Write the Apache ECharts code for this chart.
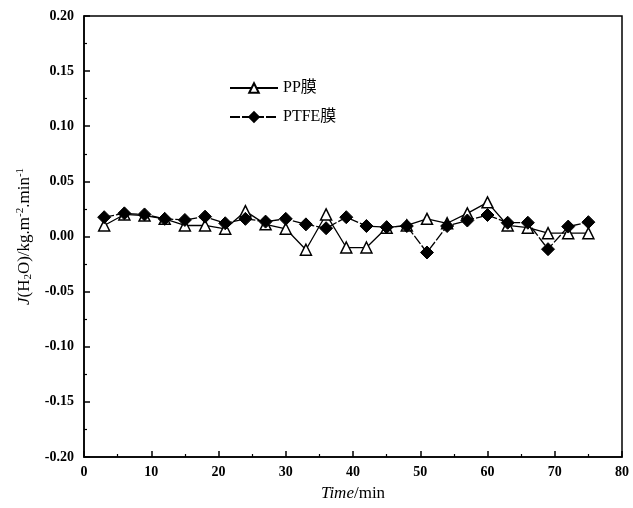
<!DOCTYPE html>
<html>
<head>
<meta charset="utf-8">
<script src="https://cdn.jsdelivr.net/npm/echarts@6/dist/echarts.min.js"></script>
<style>
  html, body { margin: 0; padding: 0; background: #fff; }
  #chart { width: 633px; height: 508px; }
</style>
</head>
<body>
<div id="chart"></div>
<script>
// 时间 (min)
const times = [3, 6, 9, 12, 15, 18, 21, 24, 27, 30, 33, 36, 39, 42, 45, 48, 51, 54, 57, 60, 63, 66, 69, 72, 75]
// PP膜
const ppValues = [0.010, 0.020, 0.019, 0.016, 0.010, 0.010, 0.007, 0.023, 0.011, 0.007, -0.012, 0.020, -0.010,
  -0.010, 0.008, 0.010, 0.016, 0.012, 0.021, 0.031, 0.010, 0.008, 0.003, 0.003, 0.003]
// PTFE膜
const ptfeValues = [0.0175, 0.021, 0.020, 0.016, 0.015, 0.018, 0.012, 0.016, 0.0135, 0.016, 0.011, 0.0075, 0.0175,
  0.0095, 0.0085, 0.0095, -0.0145, 0.0095, 0.0145, 0.0195, 0.0125, 0.0125, -0.0115, 0.009, 0.013]
const seriesNames = ['PP膜', 'PTFE膜']

const serif = '"Liberation Serif", "Noto Sans CJK SC", serif'
const chart = echarts.init(document.getElementById('chart'))

const pairs = vals => times.map((t, i) => [t, vals[i]])

const option = {
  backgroundColor: '#fff',
  animation: false,
  grid: {
    left: 84, right: 11, top: 16, bottom: 51,
    show: true, borderColor: '#000', borderWidth: 1.5, backgroundColor: 'transparent'
  },
  legend: {
    orient: 'vertical',
    left: 224, top: 75,
    itemWidth: 48, itemHeight: 12, itemGap: 13,
    textStyle: { fontFamily: serif, fontSize: 16, color: '#000' },
    data: seriesNames
  },
  xAxis: {
    type: 'value',
    min: 0, max: 80, interval: 10,
    name: '{i|Time}/min',
    nameLocation: 'middle', nameGap: 28,
    nameTextStyle: {
      fontFamily: serif, fontSize: 17, color: '#000',
      rich: { i: { fontFamily: serif, fontStyle: 'italic', fontSize: 17, color: '#000' } }
    },
    axisLine: { onZero: false, lineStyle: { color: '#000', width: 1.5 } },
    axisTick: { inside: true, length: 6, lineStyle: { color: '#000', width: 1.5 } },
    minorTick: { show: true, splitNumber: 2, length: 3, lineStyle: { color: '#000', width: 1.2 } },
    axisLabel: { fontFamily: serif, fontSize: 14, fontWeight: 'bold', color: '#000', margin: 8 },
    splitLine: { show: false }
  },
  yAxis: {
    type: 'value',
    min: -0.2, max: 0.2, interval: 0.05,
    name: '{i|J}(H{sub|2}O)/kg.m{sup|-2}.min{sup|-1}',
    nameLocation: 'middle', nameRotate: 90, nameGap: 46,
    nameTextStyle: {
      fontFamily: serif, fontSize: 17, color: '#000',
      rich: {
        i: { fontFamily: serif, fontStyle: 'italic', fontSize: 17, color: '#000' },
        sub: { fontFamily: serif, fontSize: 11, color: '#000', verticalAlign: 'bottom', padding: [8, 0, 0, 0] },
        sup: { fontFamily: serif, fontSize: 11, color: '#000', verticalAlign: 'top', padding: [0, 0, 8, 0] }
      }
    },
    axisLine: { onZero: false, lineStyle: { color: '#000', width: 1.5 } },
    axisTick: { inside: true, length: 6, lineStyle: { color: '#000', width: 1.5 } },
    minorTick: { show: true, splitNumber: 2, length: 3, lineStyle: { color: '#000', width: 1.2 } },
    axisLabel: {
      fontFamily: serif, fontSize: 14, fontWeight: 'bold', color: '#000', margin: 10,
      formatter: v => v.toFixed(2)
    },
    splitLine: { show: false }
  },
  series: [
    {
      name: seriesNames[0],
      type: 'line',
      data: pairs(ppValues),
      symbol: 'triangle',
      symbolSize: 11,
      itemStyle: { color: '#fff', borderColor: '#000', borderWidth: 1.5 },
      lineStyle: { color: '#000', width: 1.3 },
      z: 2
    },
    {
      name: seriesNames[1],
      type: 'line',
      data: pairs(ptfeValues),
      symbol: 'diamond',
      symbolSize: 13,
      itemStyle: { color: '#000', borderColor: '#000', borderWidth: 1 },
      lineStyle: { color: '#000', width: 1.3, type: [10, 2] },
      z: 3
    }
  ]
}

chart.setOption(option)
</script>
</body>
</html>
